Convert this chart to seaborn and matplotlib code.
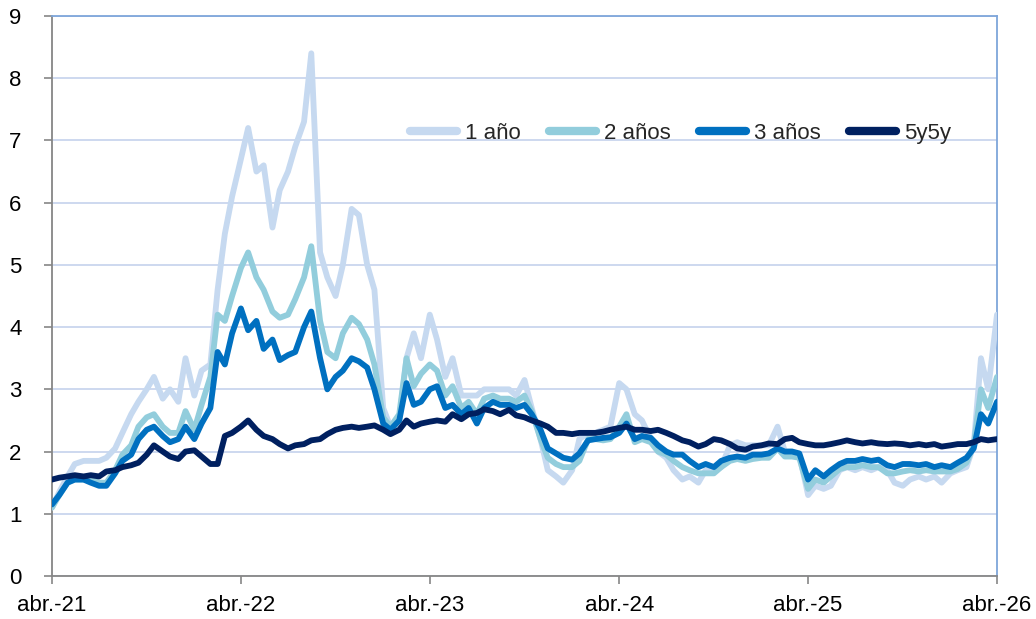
import numpy as np
import pandas as pd
import matplotlib
matplotlib.use("Agg")
import matplotlib.pyplot as plt
import matplotlib.dates as mdates
import seaborn as sns

# semi-monthly observation dates (Apr-2021 .. Apr-2026)
dates = pd.date_range("2021-04-01", "2026-04-01", freq="SMS")

one_y = [1.1,1.35,1.6,1.8,1.85,1.85,1.85,1.9,2.05,2.3,
 2.6,2.8,3.0,3.2,2.85,3.0,2.8,3.5,2.9,3.3,
 3.4,4.6,5.5,6.1,6.7,7.2,6.5,6.6,5.6,6.2,
 6.5,6.9,7.3,8.4,5.2,4.8,4.5,5.0,5.9,5.8,
 5.0,4.6,2.7,2.4,2.5,3.5,3.9,3.5,4.2,3.8,
 3.2,3.5,2.9,2.9,2.9,3.0,3.0,3.0,3.0,2.9,
 3.15,2.7,2.2,1.7,1.6,1.5,1.7,2.2,2.3,2.3,
 2.35,2.4,3.1,3.0,2.6,2.5,2.2,2.0,1.9,1.7,
 1.55,1.6,1.5,1.7,1.7,1.75,2.1,2.15,2.1,2.1,
 2.1,2.1,2.4,2.0,2.0,1.95,1.3,1.45,1.4,1.45,
 1.7,1.75,1.7,1.75,1.7,1.75,1.7,1.5,1.45,1.55,
 1.6,1.55,1.6,1.5,1.65,1.7,1.75,2.1,3.5,3.0,
 4.2]

two_y = [1.1,1.3,1.5,1.55,1.55,1.55,1.5,1.5,1.7,1.95,
 2.1,2.4,2.55,2.6,2.4,2.3,2.3,2.65,2.35,2.75,
 3.2,4.2,4.1,4.5,4.95,5.2,4.8,4.6,4.25,4.15,
 4.2,4.45,4.8,5.3,4.1,3.6,3.5,3.9,4.15,4.05,
 3.8,3.4,2.55,2.4,2.6,3.5,3.05,3.25,3.4,3.3,
 2.9,3.05,2.7,2.8,2.6,2.85,2.9,2.85,2.85,2.8,
 2.9,2.65,2.2,1.9,1.8,1.75,1.75,1.85,2.2,2.2,
 2.18,2.2,2.4,2.6,2.15,2.2,2.15,2.0,1.95,1.85,
 1.75,1.7,1.65,1.65,1.65,1.75,1.85,1.88,1.85,1.88,
 1.9,1.9,2.05,1.92,1.92,1.9,1.4,1.55,1.5,1.6,
 1.72,1.75,1.75,1.78,1.75,1.75,1.65,1.65,1.68,1.7,
 1.68,1.7,1.68,1.68,1.68,1.72,1.82,2.1,3.0,2.7,
 3.2]

three_y = [1.15,1.3,1.5,1.55,1.55,1.5,1.45,1.45,1.65,1.85,
 1.95,2.2,2.35,2.4,2.25,2.15,2.2,2.4,2.2,2.45,
 2.7,3.6,3.4,3.9,4.3,3.95,4.1,3.65,3.8,3.47,
 3.55,3.6,4.0,4.25,3.5,3.0,3.2,3.3,3.5,3.45,
 3.35,3.0,2.45,2.35,2.5,3.1,2.75,2.8,3.0,3.05,
 2.7,2.75,2.6,2.7,2.45,2.7,2.8,2.75,2.75,2.7,
 2.75,2.6,2.35,2.05,1.97,1.9,1.87,1.97,2.18,2.2,
 2.22,2.23,2.3,2.45,2.2,2.25,2.22,2.1,2.0,1.95,
 1.95,1.85,1.75,1.8,1.75,1.85,1.9,1.92,1.9,1.95,
 1.95,1.97,2.05,2.0,2.0,1.97,1.55,1.7,1.6,1.7,
 1.8,1.85,1.85,1.88,1.85,1.87,1.78,1.75,1.8,1.8,
 1.78,1.8,1.75,1.78,1.75,1.82,1.9,2.05,2.6,2.45,
 2.8]

fwd_5y5y = [1.55,1.58,1.6,1.62,1.6,1.62,1.6,1.68,1.7,1.75,
 1.78,1.82,1.95,2.1,2.0,1.92,1.88,2.0,2.02,1.92,
 1.8,1.8,2.25,2.3,2.4,2.5,2.35,2.25,2.2,2.12,
 2.05,2.1,2.12,2.18,2.2,2.28,2.35,2.38,2.4,2.38,
 2.4,2.42,2.35,2.28,2.35,2.5,2.4,2.45,2.48,2.5,
 2.48,2.6,2.52,2.6,2.62,2.68,2.65,2.6,2.67,2.58,
 2.55,2.5,2.45,2.4,2.3,2.3,2.28,2.3,2.3,2.3,
 2.32,2.35,2.38,2.4,2.35,2.35,2.33,2.35,2.3,2.25,
 2.18,2.15,2.08,2.12,2.2,2.18,2.12,2.05,2.03,2.08,
 2.1,2.13,2.12,2.2,2.22,2.15,2.12,2.1,2.1,2.12,
 2.15,2.18,2.15,2.13,2.15,2.13,2.12,2.13,2.12,2.1,
 2.12,2.1,2.12,2.08,2.1,2.12,2.12,2.15,2.2,2.18,
 2.2]

series_names = ["1 año", "2 años", "3 años", "5y5y"]
series_colors = ["#C6D9F0", "#92CDDC", "#0070C0", "#002060"]
tick_labels = ["abr.-21", "abr.-22", "abr.-23", "abr.-24", "abr.-25", "abr.-26"]
tick_dates = pd.to_datetime(["2021-04-01", "2022-04-01", "2023-04-01",
                             "2024-04-01", "2025-04-01", "2026-04-01"])

frames = []
for name, vals in zip(series_names, [one_y, two_y, three_y, fwd_5y5y]):
    assert len(vals) == len(dates)
    frames.append(pd.DataFrame({"fecha": dates, "valor": vals, "serie": name}))
df = pd.concat(frames, ignore_index=True)

sns.set_theme(style="white")
plt.rcParams["font.family"] = ["Liberation Sans", "DejaVu Sans"]

fig = plt.figure(figsize=(10.36, 6.19), dpi=100)
ax = fig.add_axes([52/1036, 43/619, 945/1036, 560/619])

sns.lineplot(data=df, x="fecha", y="valor", hue="serie", hue_order=series_names,
             palette=dict(zip(series_names, series_colors)), linewidth=4.2,
             ax=ax, legend=False, zorder=3)

ax.set_xlim(tick_dates[0], tick_dates[-1])
ax.set_ylim(0, 9)
ax.set_yticks(range(0, 10))
ax.set_xticks(tick_dates)
ax.set_xticklabels(tick_labels)
ax.set_xlabel("")
ax.set_ylabel("")
ax.grid(axis="y", color="#C9D6EE", linewidth=1.3, zorder=0)
ax.grid(axis="x", visible=False)
ax.set_axisbelow(True)

for s in ["left", "bottom"]:
    ax.spines[s].set_color("#868686")
    ax.spines[s].set_linewidth(1.3)
for s in ["top", "right"]:
    ax.spines[s].set_color("#7EA6DA")
    ax.spines[s].set_linewidth(1.3)

ax.tick_params(axis="both", which="major", labelsize=16, colors="#868686",
               labelcolor="black", direction="out", length=6, width=1.2)
ax.tick_params(axis="y", pad=16)
ax.tick_params(axis="x", pad=8)
ax.tick_params(left=True, bottom=True)

handles = [plt.Line2D([], [], color=c, linewidth=6) for c in series_colors]
ax.legend(handles, series_names, ncol=4, frameon=False, loc="center",
          bbox_to_anchor=(0.665, 0.791), fontsize=16, handlelength=2.1,
          handletextpad=0.35, columnspacing=1.3)

fig.savefig("out.png", dpi=100)
